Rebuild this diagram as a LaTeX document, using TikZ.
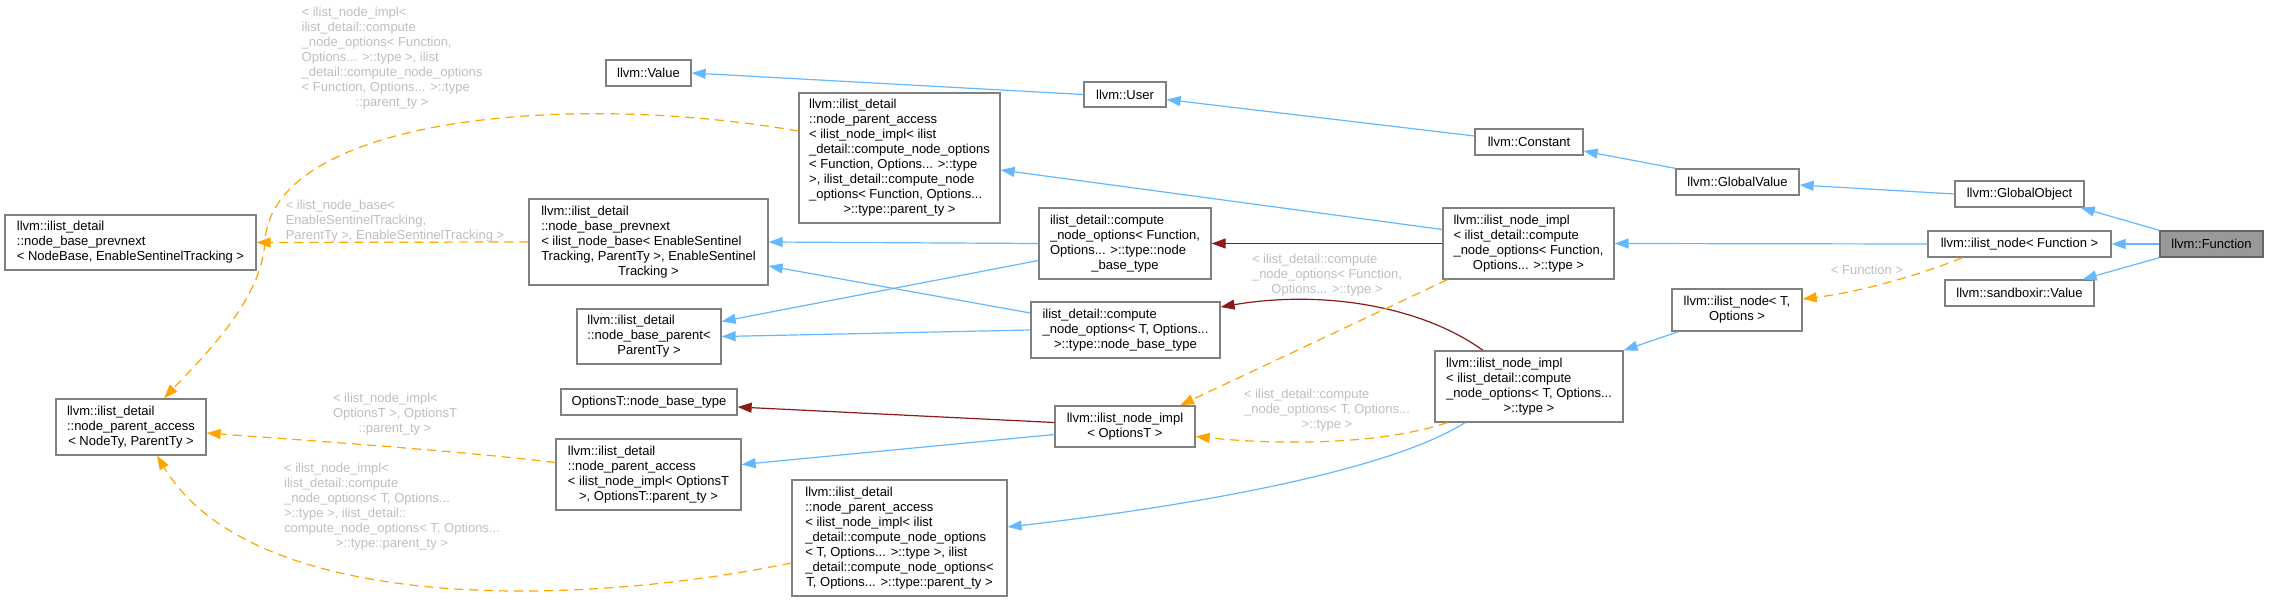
\documentclass[tikz,border=0pt]{standalone}
\usepackage{fontspec}
\newfontfamily\doxfont{Liberation Sans}
\usetikzlibrary{arrows.meta}
\definecolor{pubblue}{HTML}{63B8FF}
\definecolor{privred}{HTML}{8B1A1A}
\definecolor{tplorange}{HTML}{FFA500}
\definecolor{lblgray}{HTML}{BEBEBE}
\definecolor{boxgray}{HTML}{7F7F7F}
\definecolor{hlfill}{HTML}{999999}
\definecolor{hldraw}{HTML}{666666}
% 多行文字：前几行左对齐，最后一行居中
\newcommand{\doxtext}[2]{\begin{tabular}{@{}l@{}}#1\\\multicolumn{1}{@{}c@{}}{#2}\end{tabular}}

\begin{document}
\begin{tikzpicture}[x=1pt, y=-1pt,
    box/.style={draw=boxgray, line width=1.3pt, fill=white, inner sep=0pt,
      font=\doxfont\fontsize{13}{15}\selectfont},
    sz/.style 2 args={minimum width=#1pt, minimum height=#2pt},
    lbl/.style={text=lblgray, inner sep=0pt, font=\doxfont\fontsize{13}{15}\selectfont},
    pub/.style={draw=pubblue, line width=1.2pt, -{Triangle[length=14pt,width=10pt]}},
    priv/.style={draw=privred, line width=1.2pt, -{Triangle[length=14pt,width=10pt]}},
    tpl/.style={draw=tplorange, line width=1.2pt, dash pattern=on 9pt off 6pt,
      -{Triangle[length=14pt,width=10pt]}}]
    \useasboundingbox (0,0) rectangle (2269,602);

    % 右侧：Function 及其直接基类
    \node[box, sz={103}{26}, fill=hlfill, draw=hldraw] (function) at (2211.5,244) {llvm::Function};
    \node[box, sz={129}{26}] (globalobject) at (2019.5,194) {llvm::GlobalObject};
    \node[box, sz={183}{26}] (ilnodefn) at (2019.5,244) {llvm::ilist\_node< Function >};
    \node[box, sz={149}{26}] (sandbox) at (2019.5,293) {llvm::sandboxir::Value};
    \node[box, sz={123}{26}] (globalvalue) at (1737.5,182) {llvm::GlobalValue};
    \node[box, sz={130}{42}] (ilnodeT) at (1737,310) {\doxtext{llvm::ilist\_node< T,}{Options >}};
    \node[box, sz={108}{26}] (constant) at (1529,142) {llvm::Constant};
    \node[box, sz={82}{25}] (user) at (1125,94.5) {llvm::User};
    \node[box, sz={85}{26}] (value) at (648.5,73) {llvm::Value};

    % ilist_node_impl
    \node[box, sz={171}{71}] (implfn) at (1528.5,243.5)
      {\doxtext{llvm::ilist\_node\_impl\\< ilist\_detail::compute\\\_node\_options< Function,}{Options... >::type >}};
    \node[box, sz={188}{71}] (implT) at (1529,386.5)
      {\doxtext{llvm::ilist\_node\_impl\\< ilist\_detail::compute\\\_node\_options< T, Options...}{>::type >}};
    \node[box, sz={140}{41}] (implopt) at (1125,426.5)
      {\doxtext{llvm::ilist\_node\_impl}{< OptionsT >}};

    % node_base_type
    \node[box, sz={172}{71}] (computefn) at (1125,243.5)
      {\doxtext{ilist\_detail::compute\\\_node\_options< Function,\\Options... >::type::node}{\_base\_type}};
    \node[box, sz={189}{56}] (computeT) at (1125.5,330)
      {\doxtext{ilist\_detail::compute\\\_node\_options< T, Options...}{>::type::node\_base\_type}};
    \node[box, sz={176}{26}] (optbase) at (649,402) {OptionsT::node\_base\_type};

    % ilist_detail 基类
    \node[box, sz={201}{130}] (accessfn) at (899.5,158)
      {\doxtext{llvm::ilist\_detail\\::node\_parent\_access\\< ilist\_node\_impl< ilist\\\_detail::compute\_node\_options\\< Function, Options... >::type\\ >, ilist\_detail::compute\_node\\\_options< Function, Options...}{>::type::parent\_ty >}};
    \node[box, sz={239}{86}] (prevbase) at (648.5,242)
      {\doxtext{llvm::ilist\_detail\\::node\_base\_prevnext\\< ilist\_node\_base< EnableSentinel\\Tracking, ParentTy >, EnableSentinel}{Tracking >}};
    \node[box, sz={144}{55}] (baseparent) at (649,336.5)
      {\doxtext{llvm::ilist\_detail\\::node\_base\_parent<}{ParentTy >}};
    \node[box, sz={185}{71}] (accessopt) at (648.5,474.5)
      {\doxtext{llvm::ilist\_detail\\::node\_parent\_access\\< ilist\_node\_impl< OptionsT}{>, OptionsT::parent\_ty >}};
    \node[box, sz={215}{116}] (accessT) at (899.5,538)
      {\doxtext{llvm::ilist\_detail\\::node\_parent\_access\\< ilist\_node\_impl< ilist\\\_detail::compute\_node\_options\\< T, Options... >::type >, ilist\\\_detail::compute\_node\_options<}{T, Options... >::type::parent\_ty >}};
    \node[box, sz={251}{55}] (prevnb) at (130.5,242.5)
      {\doxtext{llvm::ilist\_detail\\::node\_base\_prevnext}{< NodeBase, EnableSentinelTracking >}};
    \node[box, sz={150}{56}] (accessNT) at (131,427)
      {\doxtext{llvm::ilist\_detail\\::node\_parent\_access}{< NodeTy, ParentTy >}};

    % 模板参数标注
    \node[lbl] (lblA) at (392,59)
      {\doxtext{< ilist\_node\_impl<\\ilist\_detail::compute\\\_node\_options< Function,\\Options... >::type >, ilist\\\_detail::compute\_node\_options\\< Function, Options... >::type}{::parent\_ty >}};
    \node[lbl] (lblB) at (395,221)
      {\doxtext{< ilist\_node\_base<\\EnableSentinelTracking,}{ParentTy >, EnableSentinelTracking >}};
    \node[lbl] (lblC) at (395,414)
      {\doxtext{< ilist\_node\_impl<\\OptionsT >, OptionsT}{::parent\_ty >}};
    \node[lbl] (lblD) at (392,507)
      {\doxtext{< ilist\_node\_impl<\\ilist\_detail::compute\\\_node\_options< T, Options...\\>::type >, ilist\_detail::\\compute\_node\_options< T, Options...}{>::type::parent\_ty >}};
    \node[lbl] (lblE) at (1327,275)
      {\doxtext{< ilist\_detail::compute\\\_node\_options< Function,}{Options... >::type >}};
    \node[lbl] (lblF) at (1327,410)
      {\doxtext{< ilist\_detail::compute\\\_node\_options< T, Options...}{>::type >}};
    \node[lbl] (lblG) at (1867,270) {< Function >};

    % 公有继承
    \draw[pub] (user.west) -- (value.east);
    \draw[pub] ([yshift=6pt]constant.west) -- ([yshift=-5pt]user.east);
    \draw[pub] (globalvalue.north west) -- ([yshift=-9pt]constant.east);
    \draw[pub] (globalobject.west) -- ([yshift=-3pt]globalvalue.east);
    \draw[pub] (function.north west) -- ([xshift=-4pt]globalobject.south east);
    \draw[pub] (function.west) -- (ilnodefn.east);
    \draw[pub] (function.south west) -- ([xshift=-12pt]sandbox.north east);
    \draw[pub] (ilnodefn.west) -- (implfn.east);
    \draw[pub] ([yshift=14pt]implfn.west) -- ([yshift=-12pt]accessfn.east);
    \draw[pub] (computefn.west) -- (prevbase.east);
    \draw[pub] ([yshift=-17pt]computefn.west) -- ([yshift=15pt]baseparent.east);
    \draw[pub] ([yshift=17pt]computeT.west) -- ([yshift=-24pt]prevbase.east);
    \draw[pub] (computeT.west) -- (baseparent.east);
    \draw[pub] ([xshift=7pt]ilnodeT.south west) -- (implT.north east);
    \draw[pub] ([yshift=-8pt]implopt.west) -- ([yshift=10pt]accessopt.east);
    \draw[pub] ([xshift=-64pt]implT.south) .. controls (1390,470) and (1200,505) .. ([yshift=11pt]accessT.east);

    % 私有继承
    \draw[priv] (implfn.west) -- (computefn.east);
    \draw[priv] ([xshift=-46pt]implT.north) .. controls (1420,305) and (1320,290) .. ([yshift=23pt]computeT.east);
    \draw[priv] ([yshift=4pt]implopt.west) -- ([yshift=-5pt]optbase.east);

    % 模板实例
    \coordinate (bendA) at (265,240);
    \draw[tpl] ([xshift=35pt]ilnodefn.south west) .. controls (1920,275) and (1860,292) .. ([yshift=11pt]ilnodeT.east);
    \draw[tpl] ([xshift=5pt]implfn.south west) -- ([xshift=55pt]implopt.north);
    \draw[tpl] ([xshift=13pt]implT.south west) .. controls (1380,445) and (1280,445) .. ([yshift=-10pt]implopt.east);
    \draw[tpl] (prevbase.west) -- (prevnb.east);
    \draw[tpl] ([yshift=27pt]accessfn.west) .. controls (560,90) and (275,120) .. (bendA)
      .. controls (263,300) and (200,360) .. ([xshift=33pt]accessNT.north);
    \draw[tpl] ([yshift=12pt]accessopt.west) .. controls (450,450) and (300,440) .. ([yshift=-6pt]accessNT.east);
    \draw[tpl] ([yshift=-25pt]accessT.west) .. controls (560,610) and (250,610) .. ([xshift=26pt]accessNT.south);
\end{tikzpicture}
\end{document}
